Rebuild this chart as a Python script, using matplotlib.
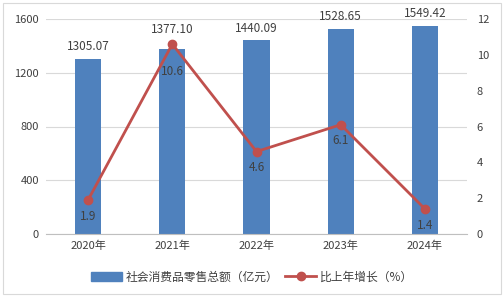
import matplotlib
matplotlib.use("Agg")
import matplotlib.pyplot as plt
from matplotlib.patches import Rectangle

plt.rcParams['font.family'] = ['Noto Sans CJK SC', 'DejaVu Sans']

years = ["2020年", "2021年", "2022年", "2023年", "2024年"]
sales = [1305.07, 1377.10, 1440.09, 1528.65, 1549.42]
growth = [1.9, 10.6, 4.6, 6.1, 1.4]
bar_name = "社会消费品零售总额（亿元）"
line_name = "比上年增长（%）"

W, H = 504, 297
fig = plt.figure(figsize=(W / 100, H / 100), dpi=100)
ax = fig.add_axes([46 / W, 1 - 234 / H, 421 / W, (234 - 19) / H])
ax2 = ax.twinx()

x = list(range(len(years)))
bars = ax.bar(x, sales, width=0.31, color="#4F81BD", zorder=2)
ax.set_xlim(-0.5, len(years) - 0.5)
ax.set_ylim(0, 1600)
ax.set_yticks([0, 400, 800, 1200, 1600])
ax.grid(axis="y", color="#D9D9D9", linewidth=0.8, zorder=0)
ax.set_axisbelow(True)
for s in ["top", "right", "left"]:
    ax.spines[s].set_visible(False)
    ax2.spines[s].set_visible(False)
ax.spines["bottom"].set_color("#BFBFBF")
ax2.spines["bottom"].set_visible(False)
ax.tick_params(axis="both", length=0, labelsize=8, colors="#404040", pad=5)
ax.set_xticks(x)
ax.set_xticklabels(years)

peak = max(growth)
for xi, v in zip(x, sales):
    off = 9 if growth[xi] == peak else 4
    ax.annotate(f"{v:.2f}", (xi, v), xytext=(0, off), textcoords="offset points",
                ha="center", va="bottom", fontsize=8.5, color="#404040")

ax2.plot(x, growth, color="#C0504D", linewidth=2, marker="o", markersize=6, zorder=3)
ax2.set_ylim(0, 12)
ax2.set_yticks([0, 2, 4, 6, 8, 10, 12])
ax2.tick_params(axis="y", length=0, labelsize=8, colors="#404040", pad=7)
for xi, v in zip(x, growth):
    off = -15 if v == peak else -7
    ax2.annotate(f"{v:.1f}", (xi, v), xytext=(0, off), textcoords="offset points",
                 ha="center", va="top", fontsize=8.5, color="#404040")

h1 = Rectangle((0, 0), 1, 1, color="#4F81BD")
h2, = ax2.plot([], [], color="#C0504D", linewidth=2, marker="o", markersize=6)
fig.legend([h1, h2], [bar_name, line_name], loc="center", bbox_to_anchor=(0.5, 1 - 277 / H),
           ncol=2, frameon=False, fontsize=8.5, handlelength=2.6, handleheight=0.7,
           columnspacing=0.6, handletextpad=0.3, labelcolor="#404040")

fig.patches.append(Rectangle((3 / W, 3 / H), 1 - 6 / W, 1 - 6 / H, transform=fig.transFigure,
                             fill=False, edgecolor="#D9D9D9", linewidth=0.8))
fig.savefig("out.png", dpi=100)
